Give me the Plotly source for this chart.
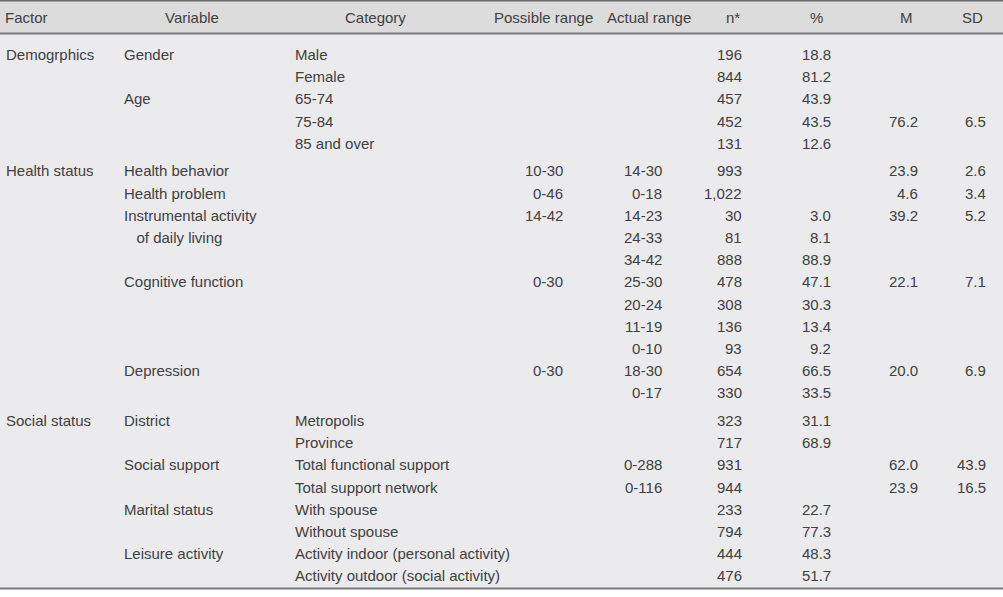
import plotly.graph_objects as go

# ---- table data ----
headers = ["Factor", "Variable", "Category", "Possible range", "Actual range", "n*", "%", "M", "SD"]

factor = ["Demogrphics", "", "", "", "",
          "Health status", "", "", "", "", "", "", "", "", "", "",
          "Social status", "", "", "", "", "", "", ""]
group = [0, 0, 0, 0, 0,
         1, 1, 1, 1, 1, 1, 1, 1, 1, 1, 1,
         2, 2, 2, 2, 2, 2, 2, 2]
variable = ["Gender", "", "Age", "", "",
            "Health behavior", "Health problem", "Instrumental activity", "\u00a0\u00a0\u00a0of daily living", "",
            "Cognitive function", "", "", "", "Depression", "",
            "District", "", "Social support", "", "Marital status", "", "Leisure activity", ""]
category = ["Male", "Female", "65-74", "75-84", "85 and over",
            "", "", "", "", "", "", "", "", "", "", "",
            "Metropolis", "Province", "Total functional support", "Total support network",
            "With spouse", "Without spouse", "Activity indoor (personal activity)",
            "Activity outdoor (social activity)"]
possible_range = ["", "", "", "", "",
                  "10-30", "0-46", "14-42", "", "", "0-30", "", "", "", "0-30", "",
                  "", "", "", "", "", "", "", ""]
actual_range = ["", "", "", "", "",
                "14-30", "0-18", "14-23", "24-33", "34-42", "25-30", "20-24", "11-19", "0-10", "18-30", "0-17",
                "", "", "0-288", "0-116", "", "", "", ""]
n_count = ["196", "844", "457", "452", "131",
           "993", "1,022", "30", "81", "888", "478", "308", "136", "93", "654", "330",
           "323", "717", "931", "944", "233", "794", "444", "476"]
percent = ["18.8", "81.2", "43.9", "43.5", "12.6",
           "", "", "3.0", "8.1", "88.9", "47.1", "30.3", "13.4", "9.2", "66.5", "33.5",
           "31.1", "68.9", "", "", "22.7", "77.3", "48.3", "51.7"]
mean_val = ["", "", "", "76.2", "",
            "23.9", "4.6", "39.2", "", "", "22.1", "", "", "", "20.0", "",
            "", "", "62.0", "23.9", "", "", "", ""]
sd_val = ["", "", "", "6.5", "",
          "2.6", "3.4", "5.2", "", "", "7.1", "", "", "", "6.9", "",
          "", "", "43.9", "16.5", "", "", "", ""]

# ---- layout/style ----
W, H = 1003, 597
TEXT = "#404040"
FONT = "Liberation Sans, Arial, sans-serif"
FS = 15
row0, step, gap = 54.5, 22.2, 5.4
row_y = [row0 + i * step + g * gap for i, g in enumerate(group)]

columns = [  # (values, x, anchor)
    (factor, 6, "left"),
    (variable, 124, "left"),
    (category, 295, "left"),
    (possible_range, 563, "right"),
    (actual_range, 662, "right"),
    (n_count, 742, "right"),
    (percent, 831, "right"),
    (mean_val, 918, "right"),
    (sd_val, 986, "right"),
]
header_pos = [(5, "left"), (192, "center"), (375, "center"), (543, "center"),
              (649, "center"), (733, "center"), (816, "center"), (906, "center"), (972, "center")]

fig = go.Figure()
fig.add_trace(go.Scatter(x=[0, W], y=[0, H], mode="markers", marker=dict(opacity=0),
                         hoverinfo="skip", showlegend=False))

shapes = [
    dict(type="rect", x0=0, x1=W, y0=0, y1=33.5, fillcolor="#dcdcdc", line=dict(width=0), layer="below"),
    dict(type="rect", x0=0, x1=W, y0=33.5, y1=588.5, fillcolor="#ebebed", line=dict(width=0), layer="below"),
    dict(type="line", x0=0, x1=W, y0=0.8, y1=0.8, line=dict(color="#6b6b6b", width=1.6)),
    dict(type="line", x0=0, x1=W, y0=33.5, y1=33.5, line=dict(color="#7a7a7a", width=2)),
    dict(type="line", x0=0, x1=W, y0=588.5, y1=588.5, line=dict(color="#7a7a7a", width=2)),
]

annotations = []
for h, (x, anc) in zip(headers, header_pos):
    annotations.append(dict(x=x, y=17.5, text=h, xref="x", yref="y", showarrow=False,
                            xanchor=anc, yanchor="middle", borderpad=0, borderwidth=0,
                            font=dict(family=FONT, size=FS, color=TEXT)))
for vals, x, anc in columns:
    for v, y in zip(vals, row_y):
        if v:
            annotations.append(dict(x=x, y=y, text=v, xref="x", yref="y", showarrow=False,
                                    xanchor=anc, yanchor="middle", borderpad=0, borderwidth=0,
                                    font=dict(family=FONT, size=FS, color=TEXT)))

fig.update_layout(
    width=W, height=H, margin=dict(l=0, r=0, t=0, b=0),
    paper_bgcolor="white", plot_bgcolor="white",
    xaxis=dict(range=[0, W], visible=False, fixedrange=True),
    yaxis=dict(range=[H, 0], visible=False, fixedrange=True),
    shapes=shapes, annotations=annotations, showlegend=False,
)
fig.write_html("out.html", config={"displayModeBar": False},
               post_script="document.body.style.margin='0';document.body.style.overflow='hidden';")
